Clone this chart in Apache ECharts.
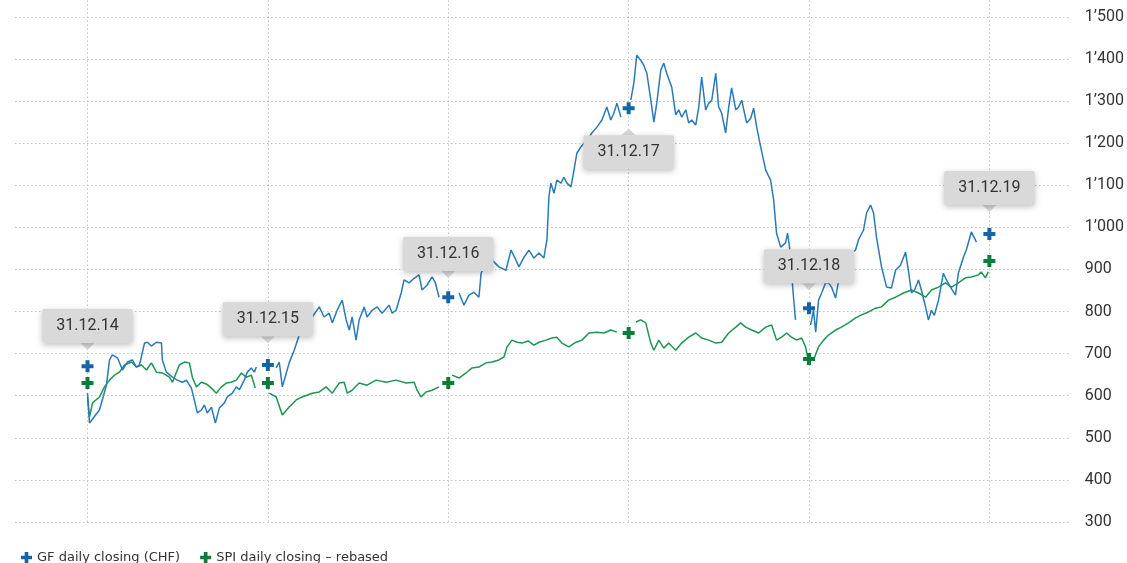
<!DOCTYPE html>
<html><head><meta charset="utf-8">
<script src="https://cdn.jsdelivr.net/npm/echarts@6/dist/echarts.min.js"></script>
<style>html,body{margin:0;padding:0;background:#fff}#chart{width:1127px;height:563px}</style>
</head><body><div id="chart"></div>
<script>
// x values are decimal years (2015.0 = 31.12.14)
const gfYears = [2015.000,2015.011,2015.066,2015.105,2015.122,2015.138,2015.166,2015.194,2015.221,2015.249,2015.271,2015.288,2015.316,2015.332,2015.354,2015.382,2015.410,2015.415,2015.437,2015.471,2015.498,2015.526,2015.548,2015.576,2015.592,2015.609,2015.631,2015.648,2015.664,2015.687,2015.709,2015.731,2015.759,2015.775,2015.803,2015.825,2015.842,2015.869,2015.886,2015.908,2015.925,2015.936,2015.990,
2016.046,2016.063,2016.080,2016.102,2016.118,2016.146,2016.174,2016.190,2016.218,2016.246,2016.285,2016.312,2016.340,2016.357,2016.384,2016.412,2016.434,2016.451,2016.467,2016.489,2016.506,2016.534,2016.550,2016.578,2016.606,2016.633,2016.672,2016.689,2016.711,2016.739,2016.755,2016.783,2016.811,2016.838,2016.855,2016.883,2016.910,2016.927,2016.949,2017.000,
2017.060,2017.087,2017.115,2017.143,2017.170,2017.182,2017.209,2017.243,2017.281,2017.320,2017.348,2017.370,2017.392,2017.420,2017.447,2017.475,2017.503,2017.530,2017.547,2017.558,2017.569,2017.586,2017.602,2017.625,2017.641,2017.658,2017.680,2017.697,2017.713,2017.735,2017.752,2017.780,2017.796,2017.824,2017.852,2017.879,2017.901,2017.918,2017.935,2017.957,2017.985,
2018.012,2018.029,2018.045,2018.067,2018.084,2018.101,2018.123,2018.140,2018.156,2018.178,2018.195,2018.211,2018.239,2018.261,2018.278,2018.294,2018.317,2018.333,2018.350,2018.372,2018.389,2018.405,2018.427,2018.444,2018.461,2018.483,2018.499,2018.516,2018.538,2018.555,2018.571,2018.594,2018.610,2018.627,2018.654,2018.677,2018.693,2018.710,2018.732,2018.760,2018.787,2018.804,2018.820,2018.843,2018.870,2018.881,2018.892,2018.914,2018.925,2018.960,
2019.009,2019.025,2019.037,2019.053,2019.070,2019.092,2019.108,2019.125,2019.147,2019.180,2019.208,2019.236,2019.258,2019.274,2019.302,2019.319,2019.341,2019.358,2019.374,2019.402,2019.430,2019.457,2019.480,2019.507,2019.535,2019.551,2019.568,2019.585,2019.607,2019.623,2019.646,2019.662,2019.679,2019.695,2019.718,2019.745,2019.762,2019.784,2019.812,2019.828,2019.856,2019.872,2019.900,2019.917,2019.928];
const gfValues = [606,535,566,625,685,697,690,661,680,685,668,673,725,727,718,727,725,685,656,644,637,632,637,618,590,559,566,578,559,573,535,571,583,597,606,621,614,637,656,666,656,668,null,
666,680,621,654,678,708,744,775,785,787,811,787,796,773,803,827,780,756,787,732,780,811,787,803,811,796,815,796,803,844,875,868,879,887,851,863,882,870,834,null,
844,815,839,846,834,891,917,922,906,898,946,927,906,929,946,927,939,927,970,1072,1105,1081,1112,1105,1119,1105,1096,1136,1176,1191,1200,1214,1224,1238,1255,1286,1255,1271,1295,1262,null,
1302,1343,1409,1397,1385,1366,1302,1250,1295,1373,1390,1366,1333,1267,1279,1262,1279,1248,1255,1243,1286,1357,1279,1295,1302,1366,1286,1271,1224,1286,1331,1279,1286,1302,1248,1259,1283,1238,1191,1136,1112,1065,986,953,963,986,953,834,780,null,
768,803,751,827,844,868,868,858,832,910,906,939,946,970,993,1034,1053,1034,977,906,858,856,898,910,941,898,844,851,875,851,811,780,803,791,827,891,875,858,839,891,929,946,989,975,965];

const spiYears = [2015.000,2015.011,2015.028,2015.066,2015.094,2015.122,2015.150,2015.177,2015.205,2015.244,2015.271,2015.299,2015.327,2015.354,2015.382,2015.415,2015.454,2015.471,2015.509,2015.537,2015.565,2015.581,2015.604,2015.631,2015.659,2015.687,2015.714,2015.742,2015.770,2015.797,2015.825,2015.853,2015.880,2015.908,2015.930,2015.970,
2016.008,2016.046,2016.080,2016.118,2016.157,2016.190,2016.246,2016.285,2016.323,2016.357,2016.395,2016.423,2016.440,2016.467,2016.506,2016.550,2016.600,2016.656,2016.711,2016.766,2016.811,2016.827,2016.849,2016.877,2016.910,2016.949,2016.985,
2017.021,2017.060,2017.098,2017.132,2017.170,2017.209,2017.243,2017.281,2017.309,2017.326,2017.353,2017.381,2017.409,2017.442,2017.475,2017.503,2017.542,2017.575,2017.602,2017.630,2017.669,2017.708,2017.741,2017.780,2017.824,2017.863,2017.901,2017.935,2017.985,
2018.040,2018.067,2018.095,2018.123,2018.140,2018.167,2018.195,2018.222,2018.261,2018.294,2018.333,2018.372,2018.405,2018.444,2018.483,2018.516,2018.555,2018.594,2018.621,2018.649,2018.682,2018.721,2018.760,2018.793,2018.820,2018.848,2018.876,2018.903,2018.931,2018.959,2018.981,2018.992,2019.008,
2019.025,2019.053,2019.081,2019.108,2019.147,2019.180,2019.219,2019.258,2019.291,2019.330,2019.369,2019.402,2019.441,2019.480,2019.524,2019.568,2019.607,2019.646,2019.679,2019.718,2019.756,2019.790,2019.828,2019.867,2019.900,2019.939,2019.955,2019.978,2019.994];
const spiValues = [597,549,583,597,621,637,649,656,673,680,668,673,661,678,656,654,644,632,673,680,678,644,621,632,628,618,606,621,630,632,637,654,644,649,618,null,
606,597,554,573,590,597,606,609,621,606,630,632,606,613,630,625,637,632,637,630,632,613,597,609,613,621,null,
649,642,654,666,668,678,680,685,692,716,732,727,725,730,720,727,732,737,739,725,716,727,732,749,751,749,756,751,null,
775,780,773,725,708,732,713,725,708,725,739,749,737,732,725,727,749,763,773,763,756,749,763,768,732,739,749,739,732,737,716,692,null,
685,716,732,744,756,763,773,785,792,799,808,811,827,834,844,851,844,834,851,858,868,858,868,880,882,887,894,880,894];

// year-end markers (31.12.14 ... 31.12.19)
const markerYears = [2015, 2016, 2017, 2018, 2019, 2020];
const gfMarkers  = [670, 673, 834, 1283, 808, 984];
const spiMarkers = [630, 630, 630, 749, 687, 920];

// callouts
const calloutLabels = ['31.12.14','31.12.15','31.12.16','31.12.17','31.12.18','31.12.19'];
const calloutValues = [717, 733, 888, 1227, 859, 1045];
const calloutBelow  = ['31.12.17'];

const seriesNames = ['GF daily closing (CHF)', 'SPI daily closing \u2013 rebased'];

const zip = (a, b) => a.map((t, i) => [t, b[i]]);
const plus = 'path://M4,0H8V4H12V8H8V12H4V8H0V4H4Z';
const dotted = { type: [1.5, 2.5], color: '#c4c4c4', width: 1 };
const fmt = v => v >= 1000 ? Math.floor(v / 1000) + '\u2019' + String(v % 1000).padStart(3, '0') : String(v);

const chart = echarts.init(document.getElementById('chart'));
chart.setOption({
  animation: false,
  backgroundColor: '#fff',
  textStyle: { fontFamily: 'Roboto' },
  grid: { left: 15, right: 57, top: 0, bottom: 41 },
  xAxis: { type: 'value', min: 2014.598, max: 2020.446, show: false },
  yAxis: {
    type: 'value', position: 'right', min: 300, max: 1540, interval: 100,
    axisLine: { show: false }, axisTick: { show: false },
    axisLabel: { showMaxLabel: false, margin: 15, color: '#333', fontSize: 16, fontFamily: 'Roboto', formatter: fmt },
    splitLine: { show: true, showMaxLine: false, lineStyle: dotted }
  },
  legend: {
    left: 16, top: 546, itemWidth: 11, itemHeight: 11, itemGap: 20,
    textStyle: { fontSize: 13, color: '#333', fontFamily: 'DejaVu Sans' },
    data: [{ name: seriesNames[0], icon: plus }, { name: seriesNames[1], icon: plus }]
  },
  series: [
    { type: 'line', name: 'spiLine', data: zip(spiYears, spiValues), showSymbol: false, z: 2,
      lineStyle: { color: '#1f9552', width: 1.5 }, itemStyle: { color: '#1f9552' } },
    { type: 'line', name: 'gfLine', data: zip(gfYears, gfValues), showSymbol: false, z: 3,
      lineStyle: { color: '#2a7aba', width: 1.5 }, itemStyle: { color: '#2a7aba' } },
    { type: 'scatter', name: seriesNames[0], data: zip(markerYears, gfMarkers), symbol: plus, symbolSize: 12, z: 5,
      itemStyle: { color: '#1565a6', opacity: 1 },
      markLine: { silent: true, symbol: 'none', label: { show: false }, lineStyle: dotted, z: 1,
        emphasis: { disabled: true }, data: markerYears.map(y => ({ xAxis: y })) } },
    { type: 'scatter', name: seriesNames[1], data: zip(markerYears, spiMarkers), symbol: plus, symbolSize: 12, z: 5,
      itemStyle: { color: '#0b7d3a', opacity: 1 } },
    { type: 'scatter', name: 'callouts', z: 10, symbol: 'triangle', symbolSize: [14, 7],
      itemStyle: { color: '#d9d9d9', opacity: 1 },
      data: calloutLabels.map((lab, i) => {
        const below = calloutBelow.includes(lab);
        return {
          value: [markerYears[i], calloutValues[i]],
          symbolRotate: below ? 0 : 180,
          label: {
            show: true, position: below ? 'bottom' : 'top', distance: 0,
            formatter: lab, fontSize: 16, color: '#333', fontFamily: 'Roboto',
            backgroundColor: '#d9d9d9', padding: [8, 14, 8, 14], lineHeight: 18, borderRadius: 2,
            shadowBlur: 6, shadowColor: 'rgba(0,0,0,0.25)', shadowOffsetX: 0, shadowOffsetY: 2
          }
        };
      })
    }
  ]
});
</script></body></html>
